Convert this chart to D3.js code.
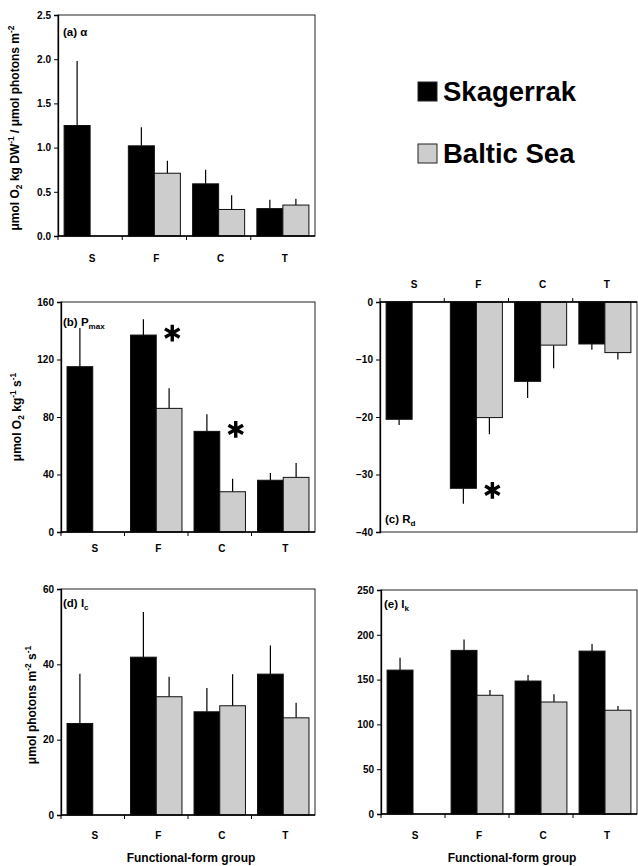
<!DOCTYPE html>
<html><head><meta charset="utf-8">
<script src="https://cdn.jsdelivr.net/npm/d3@7"></script>
<style>
body{margin:0;background:#fff}
svg{display:block;font-family:"Liberation Sans",Arial,sans-serif;font-weight:bold}
</style></head>
<body><svg id="chart" width="638" height="866"></svg>
<script>
// ---- data ----
const groups = ["S", "F", "C", "T"];
const seriesNames = ["Skagerrak", "Baltic Sea"];
const seriesColors = ["#000000", "#cdcdcd"];

const alphaSk = [1.25, 1.02, 0.59, 0.31];
const alphaSkSE = [0.73, 0.21, 0.16, 0.10];
const alphaBa = [null, 0.71, 0.30, 0.35];
const alphaBaSE = [null, 0.14, 0.16, 0.07];
const alphaTicks = [0, 0.5, 1.0, 1.5, 2.0, 2.5];

const pmaxSk = [115, 137, 70, 36];
const pmaxSkSE = [27, 11, 12, 5];
const pmaxBa = [null, 86, 28, 38];
const pmaxBaSE = [null, 14, 9, 10];
const pmaxTicks = [0, 40, 80, 120, 160];
const pmaxStars = ["F", "C"];

const rdSk = [-20.4, -32.4, -13.8, -7.3];
const rdSkSE = [1.0, 2.7, 2.9, 1.0];
const rdBa = [null, -20.1, -7.5, -8.8];
const rdBaSE = [null, 2.9, 4.0, 1.2];
const rdTicks = [0, -10, -20, -30, -40];
const rdStars = ["F"];

const icSk = [24.3, 41.9, 27.4, 37.4];
const icSkSE = [13.2, 12.0, 6.3, 7.6];
const icBa = [null, 31.4, 29.0, 25.8];
const icBaSE = [null, 5.3, 8.4, 4.0];
const icTicks = [0, 20, 40, 60];

const ikSk = [160.6, 182.6, 148.4, 181.8];
const ikSkSE = [13.8, 12.2, 6.6, 7.8];
const ikBa = [null, 132.5, 125.0, 115.8];
const ikBaSE = [null, 5.9, 8.6, 4.8];
const ikTicks = [0, 50, 100, 150, 200, 250];

const xTitle = "Functional-form group";

// ---- drawing ----
const svg = d3.select("#chart");

function richText(sel, parts, size) {
  parts.forEach(p => {
    const t = sel.append("tspan").text(p[0]);
    if (p[1] === "sub") t.attr("font-size", size * 0.7).attr("dy", size * 0.25);
    else if (p[1] === "sup") t.attr("font-size", size * 0.7).attr("dy", -size * 0.4);
    if (p[2]) t.attr("dy", p[2]);
  });
}

function panel(o) {
  const g = svg.append("g");
  const domain = d3.extent(o.ticks);
  const y = d3.scaleLinear().domain(domain).range([o.bottom, o.top]);
  const x0 = d3.scaleBand().domain(groups).range([o.left, o.right]).paddingInner(0.19).paddingOuter(0.095);
  const x1 = d3.scaleBand().domain(seriesNames).range([0, x0.bandwidth()]);

  const series = [
    {name: seriesNames[0], vals: o.sk, se: o.skSE, color: seriesColors[0]},
    {name: seriesNames[1], vals: o.ba, se: o.baSE, color: seriesColors[1]}
  ];
  const recs = [];
  series.forEach(s => groups.forEach((gname, i) => {
    if (s.vals[i] != null) recs.push({g: gname, s: s.name, v: s.vals[i], se: s.se[i], color: s.color});
  }));

  // error bars (behind bars)
  g.selectAll("line.err").data(recs).join("line").attr("class", "err")
    .attr("x1", d => x0(d.g) + x1(d.s) + x1.bandwidth() / 2)
    .attr("x2", d => x0(d.g) + x1(d.s) + x1.bandwidth() / 2)
    .attr("y1", d => y(d.v))
    .attr("y2", d => y(d.v + Math.sign(d.v) * d.se))
    .attr("stroke", "#000").attr("stroke-width", 1.2);

  g.selectAll("rect.bar").data(recs).join("rect").attr("class", "bar")
    .attr("x", d => x0(d.g) + x1(d.s))
    .attr("width", x1.bandwidth())
    .attr("y", d => Math.min(y(0), y(d.v)))
    .attr("height", d => Math.abs(y(d.v) - y(0)))
    .attr("fill", d => d.color).attr("stroke", "#111").attr("stroke-width", 1);

  // frame
  g.append("rect").attr("x", o.left).attr("y", o.top)
    .attr("width", o.right - o.left).attr("height", o.bottom - o.top)
    .attr("fill", "none").attr("stroke", "#222").attr("stroke-width", 1);

  // y axis
  const ya = d3.axisLeft(y).tickValues(o.ticks).tickSize(4).tickPadding(3).tickFormat(o.fmt);
  const yg = g.append("g").attr("transform", `translate(${o.left},0)`).call(ya);
  yg.select(".domain").attr("stroke", "#000").attr("stroke-width", 1.3);
  yg.selectAll("text").attr("font-size", 10).attr("font-weight", "bold")
    .attr("font-family", '"Liberation Sans",Arial,sans-serif').attr("fill", "#000");
  yg.selectAll(".tick line").attr("stroke", "#000");

  // x axis line at zero + category boundary ticks
  const y0 = y(0);
  const dir = o.top0 ? -1 : 1;
  g.append("line").attr("x1", o.left).attr("x2", o.right).attr("y1", y0).attr("y2", y0)
    .attr("stroke", "#000").attr("stroke-width", 1.3);
  const bounds = groups.map(gn => x0(gn) - x0.step() * x0.paddingInner() / 2);
  bounds[0] = o.left;
  g.selectAll("line.xt").data(bounds).join("line").attr("class", "xt")
    .attr("x1", d => d).attr("x2", d => d).attr("y1", y0).attr("y2", y0 + dir * 4)
    .attr("stroke", "#000");

  g.selectAll("text.cat").data(groups).join("text").attr("class", "cat")
    .attr("x", d => x0(d) + x0.bandwidth() / 2 + 2)
    .attr("y", o.catY)
    .attr("text-anchor", "middle").attr("font-size", 10).text(d => d);

  // panel label
  const pl = g.append("text").attr("x", o.labX).attr("y", o.labY).attr("font-size", 11.5);
  richText(pl, o.label, 11.5);

  // y title
  if (o.yTitle) {
    const yt = g.append("text").attr("transform", `translate(${o.yTitleX},${o.yTitleY}) rotate(-90)`)
      .attr("text-anchor", "middle").attr("font-size", 12);
    richText(yt, o.yTitle, 12);
  }

  // significance stars: right of the Skagerrak bar, at the level of its mean
  if (o.stars) {
    const star = d3.symbol().type(d3.symbolAsterisk).size(200);
    o.stars.forEach(sg => {
      const i = groups.indexOf(sg);
      const cx = x0(sg) + x1.bandwidth() + 16;
      const cy = y(o.sk[i]) + (o.top0 ? 2 : -2);
      g.append("path").attr("d", star()).attr("transform", `translate(${cx},${cy})`)
        .attr("stroke", "#000").attr("stroke-width", 3.4).attr("fill", "none");
    });
  }

  if (o.xTitleY) {
    g.append("text").attr("x", (o.left + o.right) / 2 + 3).attr("y", o.xTitleY)
      .attr("text-anchor", "middle").attr("font-size", 12).text(xTitle);
  }
}

const fmt1 = d3.format(".1f");
const fmt0 = d3.format("d");

panel({left: 58, right: 315, top: 15, bottom: 236, ticks: alphaTicks, fmt: fmt1,
  sk: alphaSk, skSE: alphaSkSE, ba: alphaBa, baSE: alphaBaSE, catY: 262,
  label: [["(a) α"]], labX: 63, labY: 36,
  yTitle: [["μmol O"], ["2", "sub"], [" kg DW", null, -3], ["-1", "sup"], [" / μmol photons m", null, 4.8], ["-2", "sup"]],
  yTitleX: 19, yTitleY: 128});

panel({left: 61, right: 315, top: 302, bottom: 532, ticks: pmaxTicks, fmt: fmt0,
  sk: pmaxSk, skSE: pmaxSkSE, ba: pmaxBa, baSE: pmaxBaSE, catY: 552,
  label: [["(b) P"], ["max", "sub"]], labX: 63, labY: 326,
  yTitle: [["μmol O"], ["2", "sub"], [" kg", null, -3], ["-1", "sup"], [" s", null, 4.8], ["-1", "sup"]],
  yTitleX: 21, yTitleY: 417, stars: pmaxStars});

panel({left: 380, right: 637, top: 302, bottom: 532, ticks: rdTicks, fmt: fmt0, top0: true,
  sk: rdSk, skSE: rdSkSE, ba: rdBa, baSE: rdBaSE, catY: 288,
  label: [["(c) R"], ["d", "sub"]], labX: 385, labY: 523, stars: rdStars});

panel({left: 61, right: 315, top: 589, bottom: 815, ticks: icTicks, fmt: fmt0,
  sk: icSk, skSE: icSkSE, ba: icBa, baSE: icBaSE, catY: 839,
  label: [["(d) I"], ["c", "sub"]], labX: 63, labY: 607,
  yTitle: [["μmol photons m"], ["-2", "sup"], [" s", null, 4.8], ["-1", "sup"]],
  yTitleX: 36, yTitleY: 705, xTitleY: 862});

panel({left: 381, right: 637, top: 590, bottom: 814, ticks: ikTicks, fmt: fmt0,
  sk: ikSk, skSE: ikSkSE, ba: ikBa, baSE: ikBaSE, catY: 839,
  label: [["(e) I"], ["k", "sub"]], labX: 384, labY: 608, xTitleY: 862});

// legend
const leg = svg.append("g");
seriesNames.forEach((n, i) => {
  const yy = 82 + i * 62;
  leg.append("rect").attr("x", 418).attr("y", yy).attr("width", 19).attr("height", 19)
    .attr("fill", seriesColors[i]).attr("stroke", "#222").attr("stroke-width", 1);
  leg.append("text").attr("x", 443).attr("y", yy + 19).attr("font-size", 27.5).text(n);
});
</script></body></html>
